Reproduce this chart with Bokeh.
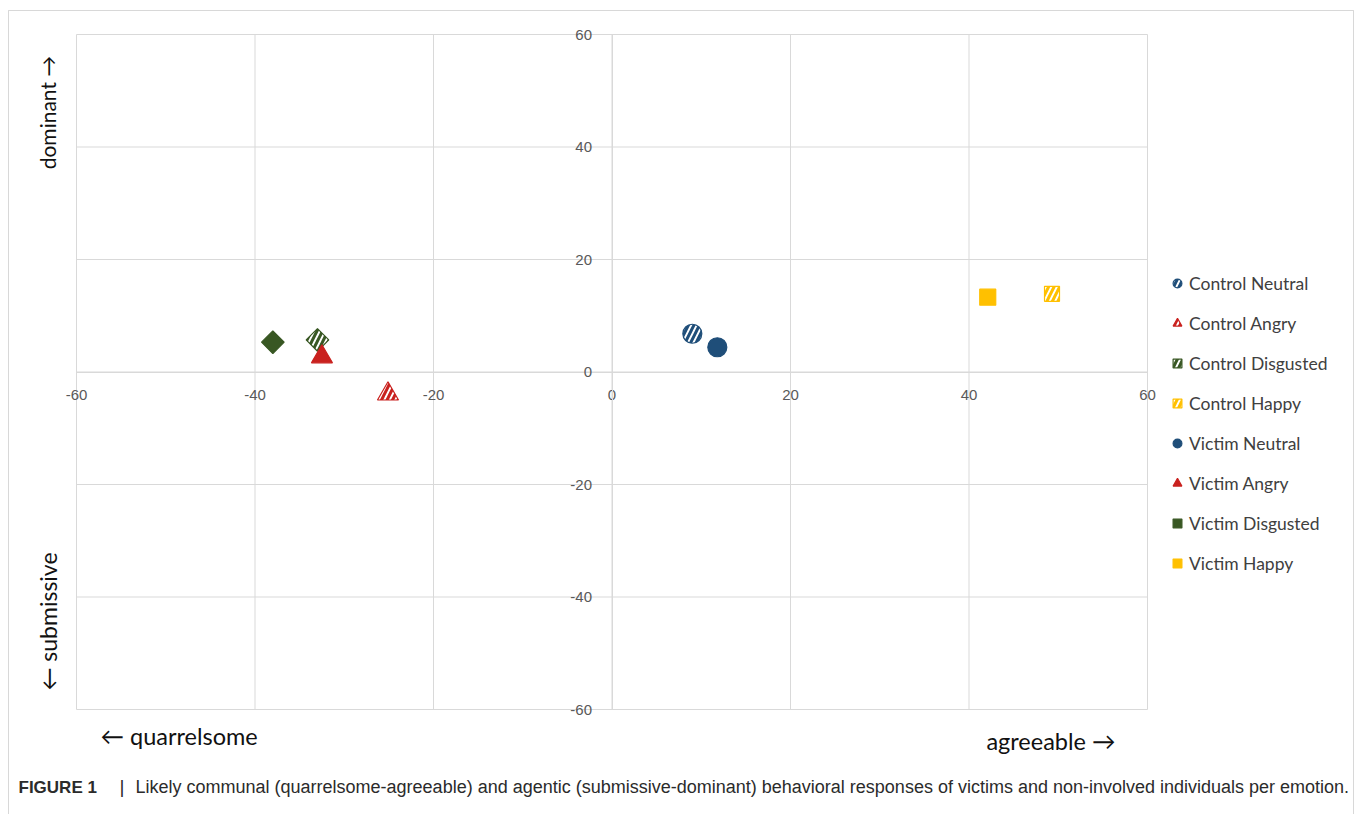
import math
from bokeh.plotting import figure
from bokeh.models import Range1d, FixedTicker, Label, Legend, LegendItem, BoxAnnotation
from bokeh.embed import file_html
from bokeh.resources import INLINE

# ---------------- data ----------------
series = ["Control Neutral", "Control Angry", "Control Disgusted", "Control Happy",
          "Victim Neutral", "Victim Angry", "Victim Disgusted", "Victim Happy"]
agreeable = [9.0, -25.1, -33.0, 49.3, 11.8, -32.5, -38.0, 42.1]
dominant = [6.8, -3.9, 5.7, 13.9, 4.4, 2.7, 5.3, 13.3]
tick_values = [-60, -40, -20, 0, 20, 40, 60]
tick_labels = ["-60", "-40", "-20", "0", "20", "40", "60"]

caption_bold = "FIGURE 1"
caption_text = ("Likely communal (quarrelsome-agreeable) and agentic (submissive-dominant) "
                "behavioral responses of victims and non-involved individuals per emotion.")

# ---------------- styles ----------------
style = {
    "Control Neutral":   dict(marker="circle",   color="#1f4e79", hatched=True,  size=19, angle=0),
    "Control Angry":     dict(marker="triangle", color="#c9211e", hatched=True,  size=21, angle=0),
    "Control Disgusted": dict(marker="square",   color="#385723", hatched=True,  size=16, angle=math.pi / 4),
    "Control Happy":     dict(marker="square",   color="#ffc000", hatched=True,  size=15, angle=0),
    "Victim Neutral":    dict(marker="circle",   color="#1f4e79", hatched=False, size=19, angle=0),
    "Victim Angry":      dict(marker="triangle", color="#c9211e", hatched=False, size=21, angle=0),
    "Victim Disgusted":  dict(marker="square",   color="#385723", hatched=False, size=16, angle=math.pi / 4),
    "Victim Happy":      dict(marker="square",   color="#ffc000", hatched=False, size=16, angle=0),
}

W, H = 1356, 814
# plot-area placement on the canvas (px): left 76, right 1147, top 34, bottom 709
FL, FR, FT, FB = 76, 1147, 34, 709


def px2x(px):
    return -60 + (px - FL) / (FR - FL) * 120


def px2y(py):
    return 60 - (py - FT) / (FB - FT) * 120


p = figure(width=W, height=H, output_backend="svg", toolbar_location=None,
           x_range=Range1d(px2x(0), px2x(W)), y_range=Range1d(px2y(H), px2y(0)),
           min_border=0, min_border_left=0, min_border_right=0,
           min_border_top=0, min_border_bottom=0)
p.outline_line_color = None
p.background_fill_color = "white"
p.border_fill_color = "white"
p.xgrid.visible = False
p.ygrid.visible = False

GRID = "#d9d9d9"
# grid lines of the plot area, drawn from the tick values
lo, hi = tick_values[0], tick_values[-1]
p.segment(x0=tick_values, y0=[lo] * len(tick_values), x1=tick_values, y1=[hi] * len(tick_values),
          line_color=GRID, line_width=1)
p.segment(x0=[lo] * len(tick_values), y0=tick_values, x1=[hi] * len(tick_values), y1=tick_values,
          line_color=GRID, line_width=1)

for ax in (p.xaxis[0], p.yaxis[0]):
    ax.fixed_location = 0
    ax.bounds = (lo, hi)
    ax.ticker = FixedTicker(ticks=tick_values)
    ax.major_label_overrides = {v: t for v, t in zip(tick_values, tick_labels)}
    ax.axis_line_color = GRID
    ax.major_tick_line_color = None
    ax.minor_tick_line_color = None
    ax.major_label_text_font = "Liberation Sans"
    ax.major_label_text_font_size = "15px"
    ax.major_label_text_color = "#595959"
p.xaxis[0].major_label_standoff = 12
p.yaxis[0].major_label_standoff = 14

# outer figure box
p.add_layout(BoxAnnotation(left=px2x(8), right=px2x(1353), top=px2y(10), bottom=px2y(H + 40),
                           fill_alpha=0, line_color="#7f7f7f", line_width=1))

renderers = {}
for s, xv, yv in zip(series, agreeable, dominant):
    st = style[s]
    kw = dict(x=[xv], y=[yv], marker=st["marker"], size=st["size"], angle=st["angle"],
              line_color=st["color"], line_width=1.2)
    if st["hatched"]:
        kw.update(fill_color="white", hatch_pattern="/", hatch_color=st["color"],
                  hatch_weight=3, hatch_scale=11)
    else:
        kw.update(fill_color=st["color"])
    renderers[s] = p.scatter(**kw)

legend = Legend(items=[LegendItem(label=s, renderers=[renderers[s]]) for s in series],
                location=(1166, H - 574), orientation="vertical",
                glyph_width=22, glyph_height=22, spacing=18, label_standoff=1,
                label_text_font="Lato", label_text_font_size="17.5px",
                label_text_color="#404040", border_line_color=None,
                background_fill_alpha=0, padding=0, margin=0)
p.add_layout(legend)

axis_font = "Lato"
labels = [
    Label(x=px2x(47), y=px2y(112), text="dominant \u2192", angle=math.pi / 2,
          text_align="center", text_baseline="middle", text_font_size="21px"),
    Label(x=px2x(47), y=px2y(621), text="\u2190 submissive", angle=math.pi / 2,
          text_align="center", text_baseline="middle", text_font_size="23px"),
    Label(x=px2x(100), y=px2y(735), text="\u2190 quarrelsome",
          text_align="left", text_baseline="middle", text_font_size="23.5px"),
    Label(x=px2x(1115), y=px2y(740), text="agreeable \u2192",
          text_align="right", text_baseline="middle", text_font_size="23.5px"),
]
for lb in labels:
    lb.text_font = axis_font
    lb.text_color = "#111111"
    p.add_layout(lb)

p.add_layout(Label(x=px2x(18), y=px2y(787), text=caption_bold, text_font="Liberation Sans",
                   text_font_style="bold", text_font_size="17px", text_color="#2b2b2b",
                   text_baseline="middle"))
p.add_layout(Label(x=px2x(119), y=px2y(786), text="|", text_font="Liberation Sans",
                   text_font_size="19px", text_color="#2b2b2b", text_baseline="middle"))
p.add_layout(Label(x=px2x(135), y=px2y(786), text=caption_text, text_font="Liberation Sans",
                   text_font_size="18px", text_color="#2b2b2b", text_baseline="middle"))

open("out.html", "w").write(file_html(p, INLINE))
